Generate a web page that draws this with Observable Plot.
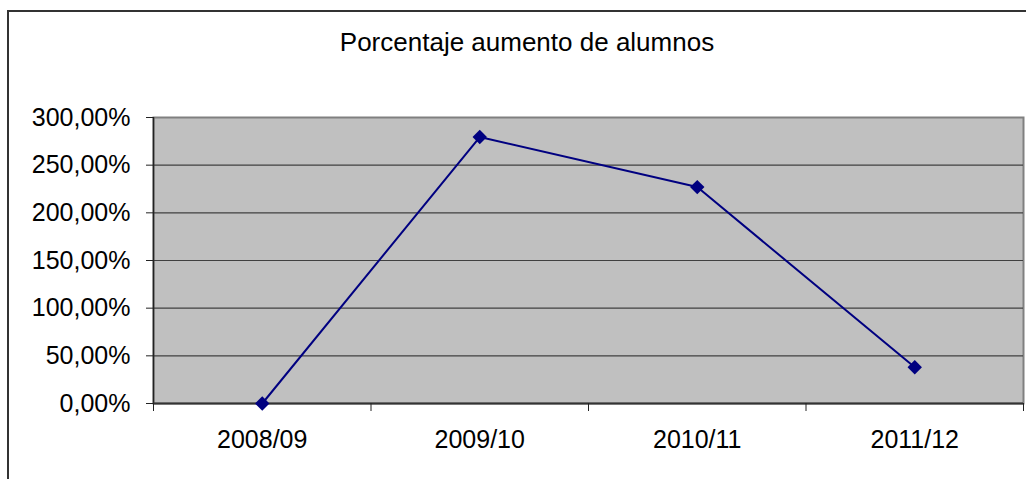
<!DOCTYPE html>
<html>
<head>
<meta charset="utf-8">
<script src="https://cdn.jsdelivr.net/npm/d3@7"></script>
<script src="https://cdn.jsdelivr.net/npm/@observablehq/plot@0.6"></script>
<style>
  html, body { margin: 0; padding: 0; background: #fff; overflow: hidden; width: 1026px; height: 479px; }
  #border { position: absolute; left: 7px; top: 10px; width: 1100px; height: 600px; border: 2px solid #333; box-sizing: border-box; }
  #title { position: absolute; left: 0; top: 29px; width: 1054px; text-align: center; font: 26px "Liberation Sans", Arial, sans-serif; line-height: 26px; color: #000; }
  #chart { position: absolute; left: 0; top: 95px; }
</style>
</head>
<body>
<div id="border"></div>
<div id="title">Porcentaje aumento de alumnos</div>
<div id="chart"></div>
<script>
const years = ["2008/09", "2009/10", "2010/11", "2011/12"];
const values = [0, 279.5, 227, 38];
const yTicks = [0, 50, 100, 150, 200, 250, 300];

const data = years.map((y, i) => ({pos: i + 0.5, year: y, value: values[i]}));
const bandEdges = d3.range(years.length + 1);
const centers = years.map((_, i) => i + 0.5);
const fmt = d => d.toFixed(2).replace(".", ",") + "%";

const plot = Plot.plot({
  width: 1026,
  height: 384,
  marginLeft: 153,
  marginRight: 3,
  marginTop: 22,
  marginBottom: 76,
  style: {fontFamily: "'Liberation Sans', Arial, sans-serif", fontSize: "25px", color: "#000", background: "transparent", overflow: "visible"},
  x: {domain: [0, years.length]},
  y: {domain: [0, 300]},
  marks: [
    Plot.frame({fill: "#c0c0c0", stroke: "#808080", strokeWidth: 2}),
    Plot.gridY(yTicks.slice(1, -1), {stroke: "#404040", strokeOpacity: 1, strokeWidth: 1.2}),
    Plot.ruleX([0], {stroke: "#222", strokeWidth: 1.5}),
    Plot.ruleY([0], {stroke: "#333", strokeWidth: 2}),
    Plot.axisY(yTicks, {tickSize: 7, tickPadding: 16, tickFormat: fmt, stroke: "#222", fill: "#000", label: null}),
    Plot.axisX(bandEdges, {tickSize: 8, tickFormat: () => "", stroke: "#222", label: null}),
    Plot.axisX(centers, {tickSize: 0, tickPadding: 27, tickFormat: d => years[Math.round(d - 0.5)], fill: "#000", label: null}),
    Plot.line(data, {x: "pos", y: "value", stroke: "#000080", strokeWidth: 2}),
    Plot.dot(data, {x: "pos", y: "value", symbol: "diamond2", r: 6.5, fill: "#000080", stroke: "none"})
  ]
});
document.getElementById("chart").appendChild(plot);
</script>
</body>
</html>
